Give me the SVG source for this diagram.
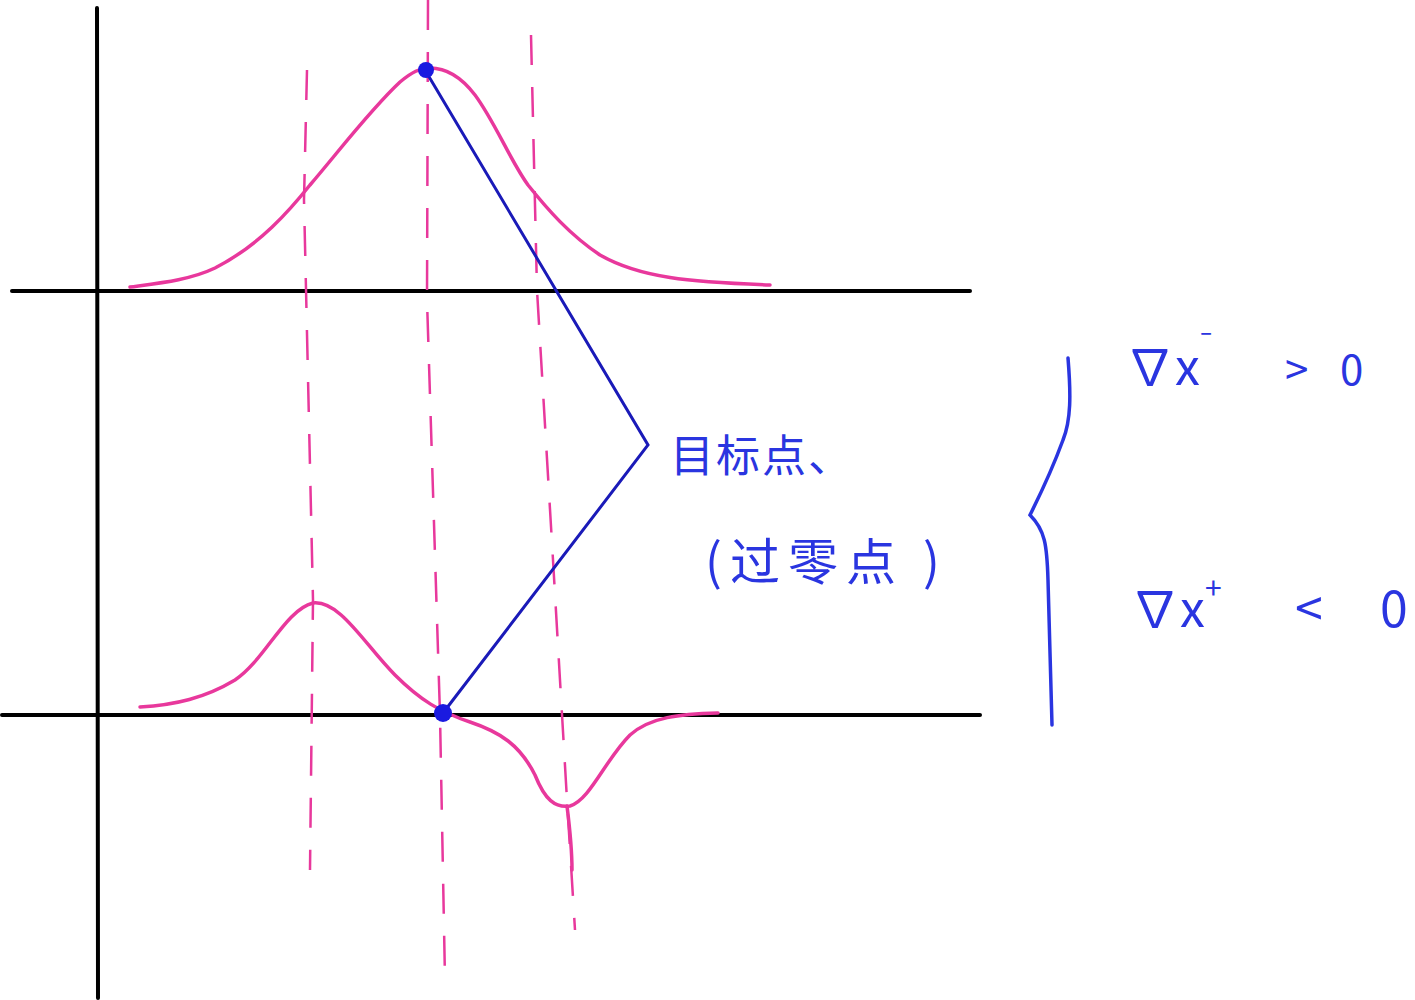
<svg xmlns="http://www.w3.org/2000/svg" width="1415" height="1000" viewBox="0 0 1415 1000">
<style>
.axis{stroke:#000;stroke-width:4;fill:none;stroke-linecap:round}
.curve{stroke:#e8389c;stroke-width:3.5;fill:none;stroke-linecap:round;stroke-linejoin:round}
.dash{stroke:#e8389c;stroke-width:2.5;fill:none;stroke-dasharray:30 22}
.conn{stroke:#1a1ab8;stroke-width:3;fill:none;stroke-linejoin:miter}
.dot{fill:#1a1ae0}
.lbl{fill:#2a35e0;font-family:"Noto Sans CJK SC","Noto Sans",sans-serif}
.brace{stroke:#2a35e0;stroke-width:3.5;fill:none;stroke-linecap:round}
</style>
<rect width="1415" height="1000" fill="#fff"/>
<g id="axes">
<line class="axis" x1="97" y1="8" x2="98" y2="998"/>
<line class="axis" x1="12" y1="291" x2="970" y2="291"/>
<line class="axis" x1="2" y1="715" x2="980" y2="715"/>
</g>
<g id="guides">
<path class="dash" d="M307 70 L304 200 L313 600 L310 870"/>
<path class="dash" d="M428 0 L427 300 L440 715 L445 980"/>
<path class="dash" d="M531 35 L537 290 L553 560 L567 800 L575 930"/>
</g>
<g id="curves">
<path class="curve" d="M130 287 C160 283 190 280 215 268 C260 245 290 210 310 185 C340 150 370 110 400 82 C412 72 420 68 430 68 C448 68 462 78 475 95 C495 122 510 160 528 185 C548 210 570 235 600 255 C640 278 690 282 770 285"/>
<path class="curve" d="M140 707 C175 705 205 698 235 680 C265 660 285 610 313 603 C340 600 365 645 395 675 C420 700 440 712 470 722 C500 732 520 745 535 775 C545 800 555 808 570 806 C590 800 605 760 630 735 C650 717 680 714 718 713"/>
<path class="curve" d="M567 806 C570 830 572 850 572 870"/>
</g>
<g id="connectors">
<polyline class="conn" points="425,70 648,445 443,713"/>
</g>
<g id="point-top"><circle class="dot" cx="426" cy="70" r="8"/></g>
<g id="point-zero"><circle class="dot" cx="443" cy="713" r="9"/></g>
<g id="label-target"><text class="lbl" x="670" y="472" font-size="44" letter-spacing="2">目标点、</text></g>
<g id="label-zero"><text class="lbl" x="705" y="580" font-size="50" letter-spacing="8">(过零点 )</text></g>
<g id="brace"><path class="brace" d="M1068 358 C1071 395 1071 420 1063 440 C1052 470 1040 495 1030 515 C1045 530 1047 545 1048 580 L1052 725"/></g>
<g id="label-minus"><text class="lbl" y="385" font-size="50"><tspan x="1125">∇x</tspan><tspan font-size="36" dy="-30">⁻</tspan><tspan x="1285" dy="30" font-size="42">&gt;</tspan><tspan x="1340" font-size="42">0</tspan></text></g>
<g id="label-plus"><text class="lbl" y="627" font-size="50"><tspan x="1130">∇x</tspan><tspan font-size="30" dy="-28">+</tspan><tspan x="1295" dy="28">&lt;</tspan><tspan x="1380">0</tspan></text></g>
</svg>
